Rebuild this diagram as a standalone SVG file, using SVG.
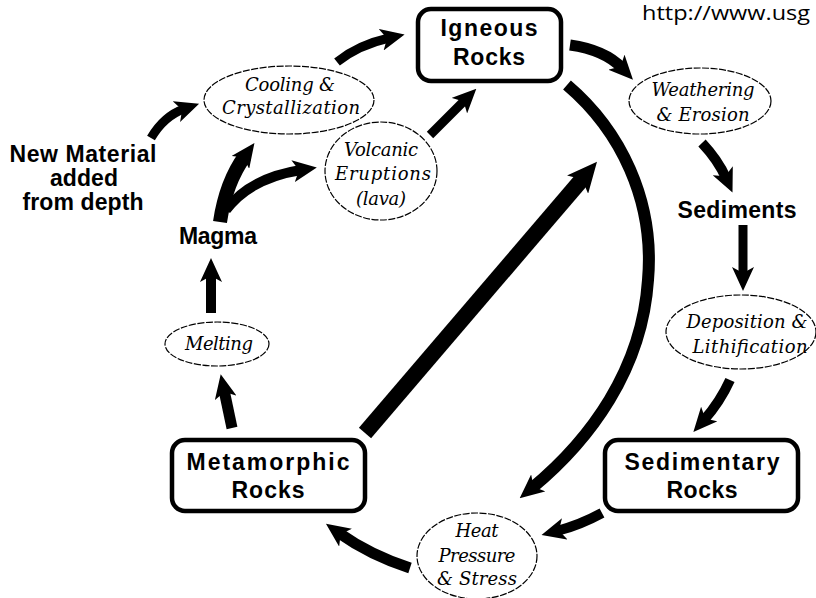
<svg xmlns="http://www.w3.org/2000/svg" width="816" height="598" viewBox="0 0 816 598">
<style>
.bg{fill:#fff}
.box{fill:#fff;stroke:#000;stroke-width:4.5}
.ell{fill:#fff;stroke:#000;stroke-width:1.2;stroke-dasharray:7 1.5}
.bold{font-family:"Liberation Sans",Arial,sans-serif;font-weight:bold;font-size:23px;fill:#000}
.scr{font-family:"DejaVu Serif","Liberation Serif",serif;font-style:italic;font-size:18px;fill:#000}
.url{font-family:"Open Sans","Liberation Sans",sans-serif;font-size:20px;fill:#000}
.arr{fill:none;stroke:#000;stroke-linecap:butt}
</style>
<defs>
<marker id="ah" viewBox="0 0 24 22" refX="8" refY="11" markerWidth="24" markerHeight="22" markerUnits="userSpaceOnUse" orient="auto"><path d="M0,0 L24,11 L0,22 L6,11 Z" fill="#000"/></marker>
<marker id="ahL" viewBox="0 0 30 28" refX="10" refY="14" markerWidth="30" markerHeight="28" markerUnits="userSpaceOnUse" orient="auto"><path d="M0,0 L30,14 L0,28 L7,14 Z" fill="#000"/></marker>
</defs>
<rect class="bg" x="0" y="0" width="816" height="598"/>
<text class="url" x="642" y="20" textLength="168" lengthAdjust="spacingAndGlyphs">http://www.usg</text>

<g id="connectors">
<path class="arr" stroke-width="9" marker-end="url(#ah)" d="M151,138 Q164,116 184,109"/>
<path class="arr" stroke-width="9" marker-end="url(#ah)" d="M337,62 Q358,45 389,38"/>
<path class="arr" stroke-width="14" marker-end="url(#ah)" d="M220,222 Q226,182 245,156"/>
<path class="arr" stroke-width="10" marker-end="url(#ah)" d="M226,210 Q250,178 301,170"/>
<path class="arr" stroke-width="9" marker-end="url(#ah)" d="M430,135 L465,100"/>
<path class="arr" stroke-width="11" marker-end="url(#ah)" d="M570,45 Q605,50 622,68"/>
<path class="arr" stroke-width="10" marker-end="url(#ah)" d="M702,143 Q718,160 726,178"/>
<path class="arr" stroke-width="9" marker-end="url(#ah)" d="M743,225 L743,275"/>
<path class="arr" stroke-width="10" marker-end="url(#ah)" d="M730,380 Q720,402 704,420"/>
<path class="arr" stroke-width="10" marker-end="url(#ah)" d="M602,513 Q580,525 557,531"/>
<path class="arr" stroke-width="11" marker-end="url(#ah)" d="M410,568 Q370,555 339,533"/>
<path class="arr" stroke-width="11" marker-end="url(#ah)" d="M232,428 L224,390"/>
<path class="arr" stroke-width="10" marker-end="url(#ah)" d="M211,313 L211,274"/>
<path class="arr" stroke-width="16" marker-end="url(#ahL)" d="M365,433 L584,177"/>
<path class="arr" stroke-width="12" marker-end="url(#ah)" d="M567,85 C620,130 655,200 648,280 C642,370 590,440 532,488"/>
</g>

<g id="igneous">
<rect class="box" x="418" y="9" width="143" height="72" rx="13"/>
<text class="bold" x="489" y="36" text-anchor="middle" textLength="97">Igneous</text>
<text class="bold" x="489" y="65" text-anchor="middle" textLength="72">Rocks</text>
</g>
<g id="metamorphic">
<rect class="box" x="172" y="440" width="193" height="71" rx="13"/>
<text class="bold" x="268" y="470" text-anchor="middle" textLength="163">Metamorphic</text>
<text class="bold" x="268" y="498" text-anchor="middle" textLength="73">Rocks</text>
</g>
<g id="sedimentary">
<rect class="box" x="605" y="440" width="193" height="71" rx="13"/>
<text class="bold" x="702" y="470" text-anchor="middle" textLength="155">Sedimentary</text>
<text class="bold" x="702" y="498" text-anchor="middle" textLength="71">Rocks</text>
</g>
<g id="new-material">
<text class="bold" x="83" y="162" text-anchor="middle" textLength="147">New Material</text>
<text class="bold" x="84" y="186" text-anchor="middle" textLength="68">added</text>
<text class="bold" x="83" y="210" text-anchor="middle" textLength="121">from depth</text>
</g>
<g id="magma">
<text class="bold" x="218" y="244" text-anchor="middle" textLength="78">Magma</text>
</g>
<g id="sediments">
<text class="bold" x="737" y="218" text-anchor="middle" textLength="119">Sediments</text>
</g>
<g id="cooling">
<ellipse class="ell" cx="289" cy="100" rx="85" ry="34"/>
<text class="scr" x="290" y="91" text-anchor="middle" textLength="90">Cooling &amp;</text>
<text class="scr" x="291" y="114" text-anchor="middle" textLength="138">Crystallization</text>
</g>
<g id="volcanic">
<ellipse class="ell" cx="381" cy="171" rx="56" ry="49"/>
<text class="scr" x="381" y="156" text-anchor="middle" textLength="74">Volcanic</text>
<text class="scr" x="383" y="180" text-anchor="middle" textLength="96">Eruptions</text>
<text class="scr" x="381" y="205" text-anchor="middle" textLength="50">(lava)</text>
</g>
<g id="weathering">
<ellipse class="ell" cx="700" cy="101" rx="71" ry="33"/>
<text class="scr" x="703" y="96" text-anchor="middle" textLength="103">Weathering</text>
<text class="scr" x="703" y="121" text-anchor="middle" textLength="93">&amp; Erosion</text>
</g>
<g id="deposition">
<ellipse class="ell" cx="741" cy="332" rx="75" ry="37"/>
<text class="scr" x="747" y="328" text-anchor="middle" textLength="121">Deposition &amp;</text>
<text class="scr" x="750" y="353" text-anchor="middle" textLength="115">Lithification</text>
</g>
<g id="melting">
<ellipse class="ell" cx="217" cy="344" rx="52" ry="22"/>
<text class="scr" x="219" y="350" text-anchor="middle" textLength="68">Melting</text>
</g>
<g id="heat">
<ellipse class="ell" cx="477" cy="556" rx="60" ry="43"/>
<text class="scr" x="477" y="537" text-anchor="middle" textLength="43">Heat</text>
<text class="scr" x="477" y="562" text-anchor="middle" textLength="77">Pressure</text>
<text class="scr" x="477" y="585" text-anchor="middle" textLength="80">&amp; Stress</text>
</g>
</svg>
